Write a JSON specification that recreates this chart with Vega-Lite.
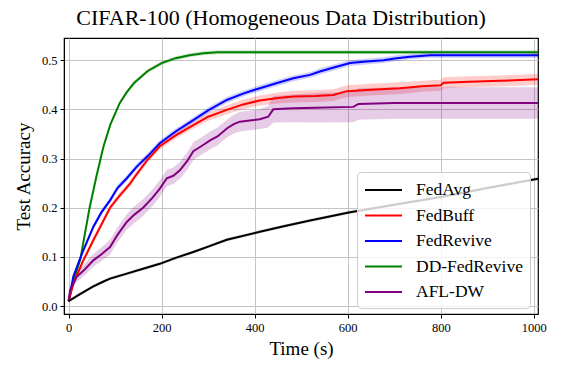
{
  "$schema": "https://vega.github.io/schema/vega-lite/v6.json",
  "width": 474,
  "height": 276,
  "autosize": {"type": "none"},
  "padding": {"left": 64, "top": 38, "right": 23, "bottom": 60},
  "background": "white",
  "title": {"text": "CIFAR-100 (Homogeneous Data Distribution)", "font": "Liberation Serif", "fontSize": 22, "fontWeight": "normal", "color": "black", "anchor": "middle", "offset": 8, "dx": -20},
  "config": {
    "view": {"stroke": "black", "strokeWidth": 1.2},
    "axis": {"labelFont": "Liberation Serif", "labelFontSize": 12.5, "labelColor": "black", "titleFont": "Liberation Serif", "titleFontSize": 19, "titleFontWeight": "normal", "titleColor": "black", "gridColor": "#c4c4c4", "gridWidth": 1, "domainColor": "black", "tickColor": "black", "tickSize": 4, "labelPadding": 3}
  },
  "data": {"values": [
    {"s":"DD-FedRevive","t":0,"y":0.01,"lo":0.007,"hi":0.013},
    {"s":"DD-FedRevive","t":10,"y":0.05,"lo":0.046,"hi":0.054},
    {"s":"DD-FedRevive","t":25,"y":0.095,"lo":0.091,"hi":0.099},
    {"s":"DD-FedRevive","t":45,"y":0.2,"lo":0.196,"hi":0.204},
    {"s":"DD-FedRevive","t":60,"y":0.265,"lo":0.261,"hi":0.269},
    {"s":"DD-FedRevive","t":75,"y":0.325,"lo":0.321,"hi":0.329},
    {"s":"DD-FedRevive","t":90,"y":0.37,"lo":0.366,"hi":0.374},
    {"s":"DD-FedRevive","t":110,"y":0.413,"lo":0.409,"hi":0.417},
    {"s":"DD-FedRevive","t":125,"y":0.435,"lo":0.431,"hi":0.439},
    {"s":"DD-FedRevive","t":140,"y":0.453,"lo":0.449,"hi":0.457},
    {"s":"DD-FedRevive","t":170,"y":0.478,"lo":0.474,"hi":0.482},
    {"s":"DD-FedRevive","t":200,"y":0.494,"lo":0.49,"hi":0.498},
    {"s":"DD-FedRevive","t":230,"y":0.504,"lo":0.5,"hi":0.508},
    {"s":"DD-FedRevive","t":260,"y":0.51,"lo":0.506,"hi":0.514},
    {"s":"DD-FedRevive","t":290,"y":0.514,"lo":0.51,"hi":0.518},
    {"s":"DD-FedRevive","t":320,"y":0.516,"lo":0.512,"hi":0.52},
    {"s":"DD-FedRevive","t":1009,"y":0.516,"lo":0.512,"hi":0.52},

    {"s":"FedRevive","t":0,"y":0.01,"lo":0.007,"hi":0.013},
    {"s":"FedRevive","t":10,"y":0.06,"lo":0.055,"hi":0.065},
    {"s":"FedRevive","t":30,"y":0.11,"lo":0.104,"hi":0.116},
    {"s":"FedRevive","t":53,"y":0.161,"lo":0.155,"hi":0.167},
    {"s":"FedRevive","t":70,"y":0.19,"lo":0.184,"hi":0.196},
    {"s":"FedRevive","t":89,"y":0.215,"lo":0.209,"hi":0.221},
    {"s":"FedRevive","t":105,"y":0.24,"lo":0.234,"hi":0.246},
    {"s":"FedRevive","t":125,"y":0.26,"lo":0.254,"hi":0.266},
    {"s":"FedRevive","t":146,"y":0.283,"lo":0.277,"hi":0.289},
    {"s":"FedRevive","t":170,"y":0.305,"lo":0.299,"hi":0.311},
    {"s":"FedRevive","t":196,"y":0.331,"lo":0.325,"hi":0.337},
    {"s":"FedRevive","t":230,"y":0.355,"lo":0.349,"hi":0.361},
    {"s":"FedRevive","t":268,"y":0.378,"lo":0.372,"hi":0.384},
    {"s":"FedRevive","t":300,"y":0.398,"lo":0.392,"hi":0.404},
    {"s":"FedRevive","t":340,"y":0.419,"lo":0.413,"hi":0.425},
    {"s":"FedRevive","t":375,"y":0.432,"lo":0.426,"hi":0.438},
    {"s":"FedRevive","t":411,"y":0.443,"lo":0.437,"hi":0.449},
    {"s":"FedRevive","t":450,"y":0.454,"lo":0.448,"hi":0.46},
    {"s":"FedRevive","t":483,"y":0.463,"lo":0.457,"hi":0.469},
    {"s":"FedRevive","t":519,"y":0.47,"lo":0.464,"hi":0.476},
    {"s":"FedRevive","t":540,"y":0.477,"lo":0.471,"hi":0.483},
    {"s":"FedRevive","t":570,"y":0.485,"lo":0.479,"hi":0.491},
    {"s":"FedRevive","t":605,"y":0.494,"lo":0.488,"hi":0.5},
    {"s":"FedRevive","t":640,"y":0.497,"lo":0.491,"hi":0.503},
    {"s":"FedRevive","t":677,"y":0.5,"lo":0.494,"hi":0.506},
    {"s":"FedRevive","t":705,"y":0.504,"lo":0.498,"hi":0.51},
    {"s":"FedRevive","t":734,"y":0.507,"lo":0.502,"hi":0.512},
    {"s":"FedRevive","t":777,"y":0.51,"lo":0.505,"hi":0.515},
    {"s":"FedRevive","t":1009,"y":0.51,"lo":0.505,"hi":0.515},

    {"s":"FedBuff","t":0,"y":0.01,"lo":0.007,"hi":0.013},
    {"s":"FedBuff","t":10,"y":0.046,"lo":0.041,"hi":0.051},
    {"s":"FedBuff","t":30,"y":0.09,"lo":0.084,"hi":0.096},
    {"s":"FedBuff","t":53,"y":0.134,"lo":0.128,"hi":0.14},
    {"s":"FedBuff","t":70,"y":0.165,"lo":0.159,"hi":0.171},
    {"s":"FedBuff","t":89,"y":0.2,"lo":0.194,"hi":0.206},
    {"s":"FedBuff","t":110,"y":0.225,"lo":0.219,"hi":0.231},
    {"s":"FedBuff","t":132,"y":0.249,"lo":0.243,"hi":0.255},
    {"s":"FedBuff","t":146,"y":0.268,"lo":0.262,"hi":0.274},
    {"s":"FedBuff","t":170,"y":0.298,"lo":0.292,"hi":0.304},
    {"s":"FedBuff","t":196,"y":0.325,"lo":0.319,"hi":0.331},
    {"s":"FedBuff","t":230,"y":0.347,"lo":0.34,"hi":0.354},
    {"s":"FedBuff","t":268,"y":0.368,"lo":0.361,"hi":0.375},
    {"s":"FedBuff","t":300,"y":0.385,"lo":0.377,"hi":0.393},
    {"s":"FedBuff","t":340,"y":0.399,"lo":0.39,"hi":0.408},
    {"s":"FedBuff","t":375,"y":0.41,"lo":0.4,"hi":0.42},
    {"s":"FedBuff","t":411,"y":0.418,"lo":0.408,"hi":0.428},
    {"s":"FedBuff","t":450,"y":0.423,"lo":0.412,"hi":0.434},
    {"s":"FedBuff","t":483,"y":0.426,"lo":0.414,"hi":0.438},
    {"s":"FedBuff","t":530,"y":0.427,"lo":0.415,"hi":0.439},
    {"s":"FedBuff","t":569,"y":0.429,"lo":0.417,"hi":0.441},
    {"s":"FedBuff","t":598,"y":0.437,"lo":0.425,"hi":0.449},
    {"s":"FedBuff","t":650,"y":0.44,"lo":0.428,"hi":0.452},
    {"s":"FedBuff","t":712,"y":0.443,"lo":0.431,"hi":0.455},
    {"s":"FedBuff","t":760,"y":0.447,"lo":0.436,"hi":0.458},
    {"s":"FedBuff","t":800,"y":0.449,"lo":0.438,"hi":0.46},
    {"s":"FedBuff","t":806,"y":0.454,"lo":0.443,"hi":0.465},
    {"s":"FedBuff","t":860,"y":0.456,"lo":0.445,"hi":0.467},
    {"s":"FedBuff","t":928,"y":0.458,"lo":0.447,"hi":0.469},
    {"s":"FedBuff","t":1009,"y":0.461,"lo":0.45,"hi":0.472},

    {"s":"AFL-DW","t":0,"y":0.01,"lo":0.007,"hi":0.013},
    {"s":"AFL-DW","t":3,"y":0.032,"lo":0.024,"hi":0.04},
    {"s":"AFL-DW","t":17,"y":0.059,"lo":0.049,"hi":0.069},
    {"s":"AFL-DW","t":35,"y":0.075,"lo":0.063,"hi":0.087},
    {"s":"AFL-DW","t":53,"y":0.093,"lo":0.08,"hi":0.106},
    {"s":"AFL-DW","t":70,"y":0.105,"lo":0.091,"hi":0.119},
    {"s":"AFL-DW","t":89,"y":0.12,"lo":0.105,"hi":0.135},
    {"s":"AFL-DW","t":105,"y":0.145,"lo":0.13,"hi":0.16},
    {"s":"AFL-DW","t":125,"y":0.171,"lo":0.155,"hi":0.187},
    {"s":"AFL-DW","t":140,"y":0.185,"lo":0.168,"hi":0.202},
    {"s":"AFL-DW","t":160,"y":0.2,"lo":0.183,"hi":0.217},
    {"s":"AFL-DW","t":180,"y":0.22,"lo":0.203,"hi":0.237},
    {"s":"AFL-DW","t":196,"y":0.239,"lo":0.222,"hi":0.256},
    {"s":"AFL-DW","t":211,"y":0.26,"lo":0.243,"hi":0.277},
    {"s":"AFL-DW","t":225,"y":0.265,"lo":0.248,"hi":0.282},
    {"s":"AFL-DW","t":239,"y":0.276,"lo":0.259,"hi":0.293},
    {"s":"AFL-DW","t":255,"y":0.295,"lo":0.277,"hi":0.313},
    {"s":"AFL-DW","t":268,"y":0.315,"lo":0.297,"hi":0.333},
    {"s":"AFL-DW","t":285,"y":0.325,"lo":0.307,"hi":0.343},
    {"s":"AFL-DW","t":304,"y":0.337,"lo":0.319,"hi":0.355},
    {"s":"AFL-DW","t":320,"y":0.345,"lo":0.327,"hi":0.363},
    {"s":"AFL-DW","t":340,"y":0.361,"lo":0.343,"hi":0.379},
    {"s":"AFL-DW","t":355,"y":0.37,"lo":0.351,"hi":0.389},
    {"s":"AFL-DW","t":368,"y":0.375,"lo":0.355,"hi":0.395},
    {"s":"AFL-DW","t":411,"y":0.38,"lo":0.36,"hi":0.4},
    {"s":"AFL-DW","t":429,"y":0.385,"lo":0.363,"hi":0.407},
    {"s":"AFL-DW","t":440,"y":0.4,"lo":0.373,"hi":0.427},
    {"s":"AFL-DW","t":483,"y":0.402,"lo":0.374,"hi":0.43},
    {"s":"AFL-DW","t":530,"y":0.403,"lo":0.373,"hi":0.433},
    {"s":"AFL-DW","t":612,"y":0.405,"lo":0.374,"hi":0.436},
    {"s":"AFL-DW","t":623,"y":0.411,"lo":0.379,"hi":0.443},
    {"s":"AFL-DW","t":700,"y":0.413,"lo":0.381,"hi":0.445},
    {"s":"AFL-DW","t":1009,"y":0.413,"lo":0.381,"hi":0.445},

    {"s":"FedAvg","t":0,"y":0.01,"lo":0.008,"hi":0.012},
    {"s":"FedAvg","t":20,"y":0.022,"lo":0.019,"hi":0.025},
    {"s":"FedAvg","t":40,"y":0.033,"lo":0.03,"hi":0.036},
    {"s":"FedAvg","t":53,"y":0.04,"lo":0.037,"hi":0.043},
    {"s":"FedAvg","t":75,"y":0.05,"lo":0.047,"hi":0.053},
    {"s":"FedAvg","t":89,"y":0.056,"lo":0.053,"hi":0.059},
    {"s":"FedAvg","t":125,"y":0.066,"lo":0.063,"hi":0.069},
    {"s":"FedAvg","t":160,"y":0.076,"lo":0.073,"hi":0.079},
    {"s":"FedAvg","t":196,"y":0.086,"lo":0.083,"hi":0.089},
    {"s":"FedAvg","t":230,"y":0.098,"lo":0.095,"hi":0.101},
    {"s":"FedAvg","t":268,"y":0.11,"lo":0.107,"hi":0.113},
    {"s":"FedAvg","t":300,"y":0.121,"lo":0.118,"hi":0.124},
    {"s":"FedAvg","t":340,"y":0.135,"lo":0.132,"hi":0.138},
    {"s":"FedAvg","t":411,"y":0.151,"lo":0.148,"hi":0.154},
    {"s":"FedAvg","t":460,"y":0.162,"lo":0.159,"hi":0.165},
    {"s":"FedAvg","t":519,"y":0.174,"lo":0.171,"hi":0.177},
    {"s":"FedAvg","t":605,"y":0.191,"lo":0.188,"hi":0.194},
    {"s":"FedAvg","t":700,"y":0.206,"lo":0.203,"hi":0.209},
    {"s":"FedAvg","t":800,"y":0.222,"lo":0.219,"hi":0.225},
    {"s":"FedAvg","t":900,"y":0.24,"lo":0.237,"hi":0.243},
    {"s":"FedAvg","t":1009,"y":0.259,"lo":0.256,"hi":0.262}
  ]},
  "layer": [
    {
      "mark": {"type": "area", "opacity": 0.2, "clip": true},
      "encoding": {
        "x": {"field": "t", "type": "quantitative", "scale": {"domain": [-10, 1009], "nice": false, "zero": false}, "axis": {"values": [0,200,400,600,800,1000], "format": "d", "title": "Time (s)", "titlePadding": 6}},
        "y": {"field": "lo", "type": "quantitative", "scale": {"domain": [-0.016, 0.545], "nice": false, "zero": false}, "axis": {"values": [0,0.1,0.2,0.3,0.4,0.5], "format": ".1f", "title": "Test Accuracy", "titlePadding": 8}},
        "y2": {"field": "hi"},
        "color": {"field": "s", "type": "nominal", "scale": {"domain": ["FedAvg","FedBuff","FedRevive","DD-FedRevive","AFL-DW"], "range": ["#000000","#ff0000","#0000ff","#008000","#800080"]}}
      }
    },
    {
      "mark": {"type": "line", "strokeWidth": 2, "clip": true},
      "encoding": {
        "x": {"field": "t", "type": "quantitative"},
        "y": {"field": "y", "type": "quantitative"},
        "color": {"field": "s", "type": "nominal",
          "legend": {"title": null, "orient": "none", "legendX": 293, "legendY": 134, "symbolType": "M-1,0H2.7", "symbolSize": 400, "symbolStrokeWidth": 2, "symbolOpacity": 1, "labelFont": "Liberation Serif", "labelFontSize": 17.5, "labelColor": "black", "labelOffset": 30, "rowPadding": 5.5, "padding": 7, "fillColor": "rgba(255,255,255,0.8)", "strokeColor": "#cccccc", "cornerRadius": 4,
            "encode": {"symbols": {"update": {"opacity": {"value": 1}, "fillOpacity": {"value": 0}, "strokeOpacity": {"value": 1}}}}}}
      }
    }
  ]
}
